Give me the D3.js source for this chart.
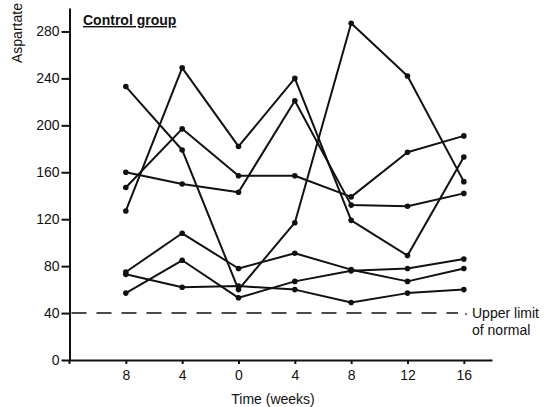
<!DOCTYPE html>
<html>
<head>
<meta charset="utf-8">
<script src="https://cdn.jsdelivr.net/npm/d3@7"></script>
<style>
  body { margin: 0; background: #fff; }
  svg { display: block; font-family: "Liberation Sans", Arial, sans-serif; }
  .axis path, .axis line { stroke: #111; stroke-width: 2; }
  .axis text { font-size: 14px; fill: #111; }
</style>
</head>
<body>
<svg width="547" height="407"></svg>
<script>
// weeks before (left of 0) and after treatment start
var weekLabels = ["8", "4", "0", "4", "8", "12", "16"];
var yTicks = [0, 40, 80, 120, 160, 200, 240, 280];
var upperLimit = 40;

// one array per patient
var patientA = [233, 179, 60, 117, 287, 242, 152];
var patientB = [127, 249, 182, 240, 119, 89, 173];
var patientC = [147, 197, 157, 157, 139, 177, 191];
var patientD = [160, 150, 143, 221, 132, 131, 142];
var patientE = [75, 108, 78, 91, 77, 67, 78];
var patientF = [57, 85, 53, 67, 76, 78, 86];
var patientG = [73, 62, 63, 60, 49, 57, 60];

var patients = [patientA, patientB, patientC, patientD, patientE, patientF, patientG];

(function () {
    var svg = d3.select("svg");

    var x = d3.scaleLinear().domain([-1, 6.5]).range([69.5, 492]);
    var y = d3.scaleLinear().domain([0, 300]).range([360, 8]);

    // y axis
    svg.append("g")
        .attr("class", "axis")
        .attr("transform", "translate(" + x(-1) + ",0)")
        .call(d3.axisLeft(y).tickValues(yTicks).tickSize(8).tickSizeOuter(0).tickPadding(2));

    // small overshoot of the y axis below the x axis
    svg.append("line")
        .attr("x1", x(-1)).attr("x2", x(-1))
        .attr("y1", y(0)).attr("y2", y(0) + 4)
        .attr("stroke", "#111").attr("stroke-width", 2);

    // x axis
    svg.append("g")
        .attr("class", "axis")
        .attr("transform", "translate(0," + y(0) + ")")
        .call(d3.axisBottom(x)
            .tickValues(d3.range(weekLabels.length))
            .tickFormat(function (i) { return weekLabels[i]; })
            .tickSize(4).tickSizeOuter(0).tickPadding(6));

    svg.selectAll(".axis .domain").attr("stroke-width", 2);

    // upper limit of normal
    svg.append("line")
        .attr("x1", x(-1) + 2).attr("x2", 458)
        .attr("y1", y(upperLimit)).attr("y2", y(upperLimit))
        .attr("stroke", "#111").attr("stroke-width", 1.6)
        .attr("stroke-dasharray", "15,10");
    svg.append("circle")
        .attr("cx", 466).attr("cy", y(upperLimit) + 1).attr("r", 0.9).attr("fill", "#111");
    svg.append("text")
        .attr("x", 472).attr("y", y(upperLimit) + 5)
        .attr("font-size", 14).attr("fill", "#111")
        .text("Upper limit");
    svg.append("text")
        .attr("x", 472).attr("y", y(upperLimit) + 22)
        .attr("font-size", 14).attr("fill", "#111")
        .text("of normal");

    // patient lines
    var line = d3.line()
        .x(function (d, i) { return x(i); })
        .y(function (d) { return y(d); });

    svg.selectAll(".patient")
        .data(patients)
        .enter().append("path")
        .attr("class", "patient")
        .attr("d", line)
        .attr("fill", "none")
        .attr("stroke", "#111")
        .attr("stroke-width", 2)
        .attr("stroke-linejoin", "round");

    svg.selectAll(".dots")
        .data(patients)
        .enter().append("g")
        .attr("class", "dots")
        .selectAll("circle")
        .data(function (d) { return d; })
        .enter().append("circle")
        .attr("cx", function (d, i) { return x(i); })
        .attr("cy", function (d) { return y(d); })
        .attr("r", 2.8)
        .attr("fill", "#111");

    // titles
    svg.append("text")
        .attr("x", 83).attr("y", 25)
        .attr("font-size", 14).attr("font-weight", "bold")
        .attr("text-decoration", "underline")
        .attr("fill", "#111")
        .text("Control group");

    svg.append("text")
        .attr("transform", "translate(22,63) rotate(-90)")
        .attr("font-size", 14).attr("fill", "#111")
        .text("Aspartate");

    svg.append("text")
        .attr("x", 273).attr("y", 404)
        .attr("text-anchor", "middle")
        .attr("font-size", 14).attr("fill", "#111")
        .text("Time (weeks)");
}());
</script>
</body>
</html>
